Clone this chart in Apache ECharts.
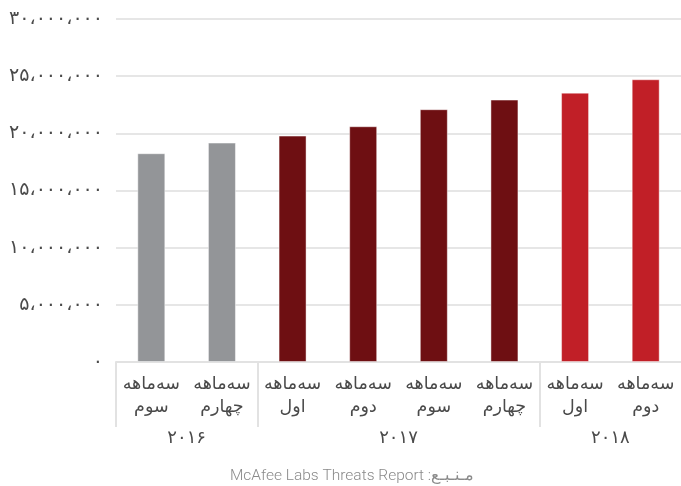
<!DOCTYPE html>
<html>
<head>
<meta charset="utf-8">
<script src="https://cdn.jsdelivr.net/npm/echarts@6/dist/echarts.min.js"></script>
<style>
  html, body { margin: 0; padding: 0; background: #fff; }
  #chart { width: 681px; height: 486px; }
</style>
</head>
<body>
<div id="chart"></div>
<script>
// Quarterly totals, third quarter 2016 through second quarter 2018
const quarterLabels = [
  'سه‌ماهه\nسوم', 'سه‌ماهه\nچهارم',
  'سه‌ماهه\nاول', 'سه‌ماهه\nدوم', 'سه‌ماهه\nسوم', 'سه‌ماهه\nچهارم',
  'سه‌ماهه\nاول', 'سه‌ماهه\nدوم'
];
const totals = [18260000, 19190000, 19800000, 20620000, 22110000, 22950000, 23560000, 24730000];
const quarterYear = [0, 0, 1, 1, 1, 1, 2, 2];
const yearLabels = ['۲۰۱۶', '۲۰۱۷', '۲۰۱۸'];
const yearColors = ['#939598', '#6e0f12', '#c11f27'];
const sourceText = 'McAfee Labs Threats Report :مـنـبـع';

// Boundaries and centres of each year group, counted in category slots
const yearStarts = [];
const yearCentres = [];
let pos = 0;
yearLabels.forEach((_, yi) => {
  const n = quarterYear.filter(y => y === yi).length;
  yearStarts.push(pos);
  yearCentres.push(pos + n / 2);
  pos += n;
});

const persianDigits = '۰۱۲۳۴۵۶۷۸۹';
function toPersian(num) {
  const s = String(num).replace(/\B(?=(\d{3})+(?!\d))/g, '،');
  return s.replace(/\d/g, d => persianDigits[+d]);
}

const faFont = "'DejaVu Sans', sans-serif";
const chart = echarts.init(document.getElementById('chart'));
chart.setOption({
  animation: false,
  grid: { left: 116, top: 19, bottom: 124, width: 574 },
  xAxis: [
    {
      type: 'category',
      data: quarterLabels,
      axisLine: { show: true, lineStyle: { color: '#e2e2e2', width: 2 } },
      axisTick: { show: false },
      axisLabel: {
        interval: 0, margin: 11, color: '#4a4a4a',
        fontFamily: faFont, fontSize: 17.5, lineHeight: 23
      }
    },
    {
      type: 'value',
      min: 0,
      max: quarterLabels.length,
      position: 'bottom',
      axisLine: { show: false },
      splitLine: { show: false },
      axisTick: {
        show: true, inside: false, length: 65,
        customValues: yearStarts,
        lineStyle: { color: '#e2e2e2', width: 2 }
      },
      axisLabel: {
        customValues: yearCentres,
        margin: 67, color: '#4a4a4a',
        fontFamily: faFont, fontSize: 18,
        formatter: v => yearLabels[yearCentres.indexOf(v)]
      }
    }
  ],
  yAxis: {
    type: 'value',
    min: 0, max: 30000000, interval: 5000000,
    axisLine: { show: false },
    axisTick: { show: false },
    splitLine: { lineStyle: { color: '#e6e6e6', width: 2 } },
    axisLabel: {
      margin: 13, color: '#4a4a4a',
      fontFamily: faFont, fontSize: 19,
      formatter: v => toPersian(v)
    }
  },
  title: {
    text: sourceText,
    left: 352, textAlign: 'center', bottom: 0, padding: [0, 0, 2, 0],
    textStyle: {
      fontFamily: "Roboto, 'DejaVu Sans', sans-serif",
      fontWeight: 300, fontSize: 15.5, color: '#8a8a8a'
    }
  },
  series: [{
    type: 'bar',
    xAxisIndex: 0,
    barWidth: 28,
    data: totals.map((v, i) => ({
      value: v,
      itemStyle: { color: yearColors[quarterYear[i]] }
    })),
    itemStyle: { borderColor: 'rgba(255,255,255,0.45)', borderWidth: 1 }
  }]
});
</script>
</body>
</html>
